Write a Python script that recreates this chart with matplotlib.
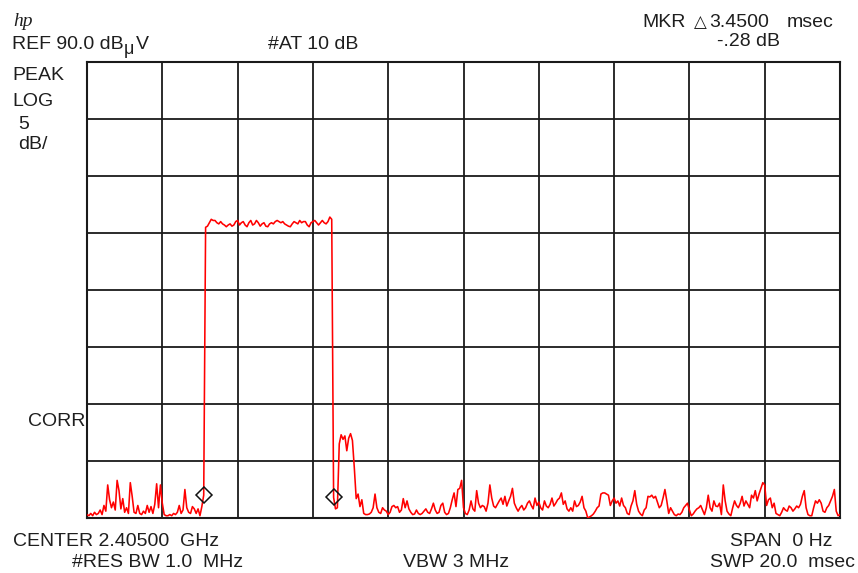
import numpy as np
import matplotlib
matplotlib.use("Agg")
import matplotlib.pyplot as plt

# ---- instrument settings (from annotations) ----
ref_level = 90.0      # dBuV, top of screen
db_per_div = 5.0
n_ydiv = 8
sweep_ms = 20.0
n_xdiv = 10

# ---- trace (dBuV), 401 sweep points over 20 ms ----
noise_before = [50.3, 50.2, 50.4, 50.2, 50.5, 50.3, 50.4, 50.7, 50.3, 51.1,
                50.6, 52.9, 51.6, 50.9, 51.4, 50.7, 53.3, 52.4, 50.8, 51.7,
                50.5, 50.9, 50.4, 53.1, 51.9, 50.5, 50.4, 51.1, 50.4, 50.3,
                50.6, 50.4, 51.1, 50.5, 51.0, 50.4, 51.2, 53.0, 50.9, 52.9,
                51.3, 50.3, 50.2, 50.2, 50.3, 50.2, 50.4, 50.3, 50.5, 51.1,
                50.4, 50.7, 52.5, 50.9, 50.5, 50.4, 51.0, 50.8, 50.4, 50.8,
                50.2, 51.0]
marker1_level = [52.0]
pulse_top = [75.5, 75.6, 75.9, 76.2, 76.1, 76.1, 75.9, 75.8, 76.0, 75.8,
             75.7, 75.55, 75.7, 75.8, 75.6, 75.7, 76.0, 76.1, 75.7, 75.9,
             76.0, 75.7, 75.55, 75.9, 76.1, 75.7, 75.8, 76.1, 75.9, 75.6,
             75.8, 75.9, 75.6, 75.55, 75.8, 75.9, 75.8, 76.0, 76.1, 76.0,
             75.9, 76.0, 75.8, 75.7, 75.6, 75.55, 75.8, 76.0, 75.9, 75.8,
             76.1, 75.9, 76.0, 76.0, 75.7, 75.55, 75.9, 76.0, 76.1, 75.9,
             75.7, 75.9, 76.1, 75.9, 75.8, 76.0, 76.4, 76.2]
marker2_level = [51.8]
echo = [50.8, 50.9, 56.5, 57.3, 56.9, 57.2, 55.9, 57.0, 57.4, 56.8,
        54.4, 51.7, 52.1, 51.0, 51.6, 50.4]
noise_after = [50.3, 50.3, 50.35, 50.5, 50.9, 52.1, 50.9, 50.5, 50.4, 50.9,
               50.7, 50.6, 50.3, 50.5, 51.0, 51.1, 50.9, 51.0, 50.5, 50.7,
               51.7, 50.9, 51.5, 50.8, 50.5, 50.3, 50.35, 50.7, 50.4, 50.3,
               50.4, 50.6, 50.8, 50.5, 50.4, 50.8, 51.3, 50.7, 50.4, 50.5,
               51.1, 51.3, 50.5, 50.3, 50.4, 50.9, 51.6, 52.2, 51.0, 52.5,
               52.6, 53.3, 50.9,
               50.4, 50.3, 50.7, 51.5, 50.8, 50.6, 52.4, 51.3, 50.9, 51.1,
               51.0, 50.6, 51.3, 52.9, 51.75, 51.05, 50.9, 51.2, 51.5, 51.75,
               51.2, 51.9, 51.05, 51.5, 51.9, 52.6, 51.3, 50.9, 50.6, 50.9,
               51.1, 50.7, 50.9, 51.3, 51.5, 51.1, 50.8, 51.75, 51.1, 51.4,
               50.9, 50.7, 51.5, 51.05, 50.9, 51.2, 51.75, 51.05, 51.3, 51.6,
               51.75, 52.2, 51.2, 51.5, 50.8, 50.6, 50.9, 50.6, 51.5, 51.0,
               51.1, 51.4, 51.9, 50.9, 50.6, 50.0, 50.1, 50.2, 50.35, 50.6,
               50.9, 51.05, 52.1, 52.2, 52.2, 52.1, 52.0, 51.1, 51.5, 51.75,
               51.3, 51.5, 51.05, 51.75, 51.1, 50.9, 50.4, 50.3, 51.05, 51.5,
               52.4, 51.2, 50.6, 50.35, 50.2, 50.7, 50.9, 51.9,
               51.85, 52.0, 51.75, 51.9, 51.4, 50.9, 51.1, 51.75, 52.5, 51.5,
               50.4, 50.9, 50.6, 50.3, 50.2, 50.35, 50.3, 50.5, 50.9, 51.1,
               51.3, 50.7, 50.2, 50.35, 50.6, 50.8, 50.9, 51.1, 50.7, 50.3,
               50.9, 52.0, 50.9, 50.6, 51.5, 51.05, 51.0, 51.3, 50.3, 52.9,
               51.5, 50.6, 50.35, 50.2, 50.9, 51.5, 51.1, 50.9, 51.3, 51.9,
               51.05, 51.5, 51.2, 50.9, 52.0, 51.75, 52.4, 51.5, 52.1, 52.6,
               53.1, 52.9, 51.1, 51.6, 51.75, 50.9, 51.3, 50.4, 50.3, 50.2,
               50.5, 50.9, 50.7, 50.6, 51.05, 50.9, 50.6, 50.8, 51.05, 50.9,
               51.2, 51.9, 52.4, 50.9, 50.3, 50.2, 50.2, 50.9, 51.5, 51.3,
               51.6, 51.3, 50.6, 50.5, 50.9, 51.1, 51.5, 51.9, 52.5, 50.6,
               50.2, 50.3]

trace = np.array(noise_before + marker1_level + pulse_top + marker2_level
                 + echo + noise_after)
t = np.arange(len(trace)) * sweep_ms / 400.0

i_m1 = len(noise_before)
i_m2 = i_m1 + 1 + len(pulse_top)

W, H = 858, 573
fig = plt.figure(figsize=(W / 100, H / 100), dpi=100)
fig.patch.set_facecolor("white")

L, R, T, B = 87, 840, 62, 518
ax = fig.add_axes([L / W, 1 - B / H, (R - L) / W, (B - T) / H])
bottom = ref_level - db_per_div * n_ydiv
ax.set_xlim(0, sweep_ms)
ax.set_ylim(bottom, ref_level)
ax.set_xticks(np.linspace(0, sweep_ms, n_xdiv + 1))
ax.set_yticks(np.linspace(bottom, ref_level, n_ydiv + 1))
ax.tick_params(length=0, labelbottom=False, labelleft=False)
ax.grid(True, color="#1a1a1a", linewidth=1.3)
ax.set_axisbelow(True)
for s in ax.spines.values():
    s.set_color("#1a1a1a")
    s.set_linewidth(1.5)

ax.plot(t, trace, color="#ff0000", linewidth=1.15, clip_on=True, zorder=3)
ax.plot([t[i_m1], t[i_m2]], [trace[i_m1], trace[i_m2]], linestyle="none",
        marker="D", markersize=8, markerfacecolor="none",
        markeredgecolor="#111111", markeredgewidth=1.1, zorder=4)

FAM = ["Liberation Sans", "DejaVu Sans"]
TC = "#1e1e1e"
FS = 14


def txt(x, y, s, **kw):
    kw.setdefault("fontsize", FS)
    kw.setdefault("color", TC)
    kw.setdefault("family", FAM)
    fig.text(x / W, 1 - y / H, s, va="baseline", ha=kw.pop("ha", "left"), **kw)


txt(13, 26, "hp", fontsize=14, fontstyle="italic",
    family=["Liberation Serif", "DejaVu Serif"])
txt(12, 49, "REF 90.0 dB")
txt(124, 54, "\u03bc", fontsize=13)
txt(136, 49, "V")
txt(268, 49, "#AT 10 dB")
txt(642, 27, "MKR")
txt(694, 27, "\u25b3", family=["DejaVu Sans"], fontsize=12)
txt(709, 27, "3.4500")
txt(787, 27, "msec")
txt(717, 46, "-.28 dB")
txt(12, 80, "PEAK")
txt(12, 106, "LOG")
txt(18, 129, "5")
txt(18, 149, "dB/")
txt(28, 426, "CORR")
txt(13, 546, "CENTER 2.40500  GHz")
txt(72, 567, "#RES BW 1.0  MHz")
txt(403, 567, "VBW 3 MHz")
txt(832, 546, "SPAN  0 Hz", ha="right")
txt(855, 567, "SWP 20.0  msec", ha="right")

fig.savefig("out.png", dpi=100, facecolor="white")
